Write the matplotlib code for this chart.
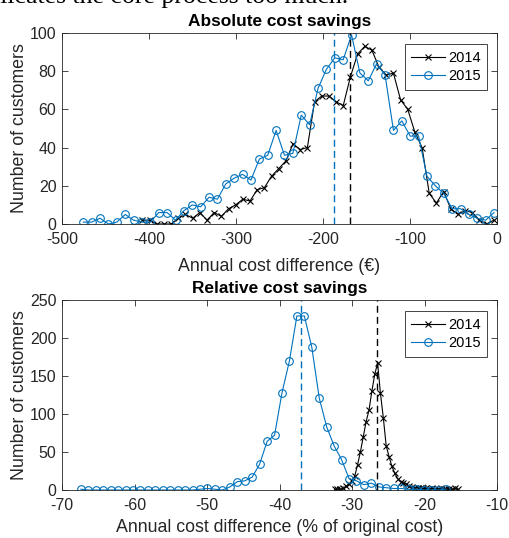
import numpy as np
import matplotlib.pyplot as plt

# Istogrammi dei risparmi annui per cliente (2014 vs 2015)
years = ['2014', '2015']

# risparmio assoluto (euro)
abs_range_2014 = (-407.5, -3.7)
abs_counts_2014 = [2, 2, 0, 0, 0, 3, 5, 3, 6, 2,
                   6, 4, 8, 10, 13, 12, 18, 19, 25, 29,
                   33, 42, 39, 40, 64, 67, 67, 64, 62, 77,
                   89, 93, 91, 82, 78, 79, 65, 60, 48, 40,
                   16, 11, 17, 8, 5, 7, 6, 2, 0, 2]
abs_range_2015 = (-475.5, -3.4)
abs_counts_2015 = [1, 1, 3, 0, 1, 5, 2, 1, 1, 6,
                   6, 2, 7, 10, 9, 14, 13, 21, 24, 26,
                   23, 34, 36, 49, 36, 37, 57, 52, 71, 81,
                   87, 86, 99, 79, 75, 84, 78, 49, 54, 46,
                   46, 25, 20, 16, 8, 8, 5, 3, 2, 6]
abs_mean = {'2014': -169, '2015': -187}

# risparmio relativo (% del costo originale)
rel_range_2014 = (-32.4, -15.4)
rel_counts_2014 = [1, 1, 1, 2, 5, 8, 12, 18, 33, 50,
                   70, 90, 105, 130, 152, 167, 127, 95, 58, 44,
                   31, 22, 15, 11, 9, 8, 5, 4, 3, 3,
                   2, 2, 2, 1, 2, 1, 1, 2, 1, 1,
                   1, 1, 2, 1]
rel_range_2015 = (-67.4, -17.05)
rel_counts_2015 = [1, 0, 0, 0, 0, 0, 0, 0, 0, 0,
                   0, 0, 0, 0, 0, 0, 1, 2, 1, 0,
                   4, 11, 12, 17, 34, 64, 72, 128, 170, 229,
                   229, 188, 121, 83, 58, 40, 15, 12, 7, 9,
                   4, 3, 2, 2, 1, 1, 0, 0, 0, 1]
rel_mean = {'2014': -26.6, '2015': -37.0}

blue = '#0072BD'
grey = '#262626'
plt.rcParams['font.family'] = ['Liberation Sans', 'DejaVu Sans']
plt.rcParams['axes.unicode_minus'] = False

fig = plt.figure(figsize=(5.09, 5.38), dpi=100)
W, H = 509.0, 538.0

# testo del documento tagliato in alto
fig.text(348 / W, 1 - 2.5 / H, 'complicates the core process too much.',
         ha='right', va='baseline', family=['Liberation Serif', 'DejaVu Serif'],
         fontsize=18.5, color='black')


def draw_panel(rect, rng14, c14, rng15, c15, means, title, xlabel, xlim, xticks, ylim, yticks, xlpad):
    ax = fig.add_axes(rect)
    x14 = np.linspace(rng14[0], rng14[1], len(c14))
    x15 = np.linspace(rng15[0], rng15[1], len(c15))
    ax.plot(x14, c14, color='black', marker='x', ms=5, mew=0.8, lw=0.8, label=years[0])
    ax.plot(x15, c15, color=blue, marker='o', ms=5.5, mfc='none', mew=0.8, lw=0.8, label=years[1])
    ax.axvline(means['2015'], color=blue, ls='--', lw=1.0, dashes=(5, 3))
    ax.axvline(means['2014'], color='black', ls='--', lw=1.0, dashes=(5, 3))
    ax.set_xlim(xlim)
    ax.set_ylim(ylim)
    ax.set_xticks(xticks)
    ax.set_yticks(yticks)
    ax.tick_params(direction='in', length=4, width=0.6, colors=grey,
                   top=True, right=True, labelsize=11.5)
    ax.tick_params(axis='x', pad=6)
    ax.tick_params(axis='y', pad=4)
    for s in ax.spines.values():
        s.set_color(grey)
        s.set_linewidth(0.6)
    ax.set_title(title, fontweight='bold', fontsize=12.4, pad=5)
    ax.set_xlabel(xlabel, color=grey, fontsize=12.8, labelpad=xlpad)
    ax.set_ylabel('Number of customers', color=grey, fontsize=12.8, labelpad=1)
    leg = ax.legend(loc='upper right', bbox_to_anchor=(0.977, 0.94), fancybox=False,
                    framealpha=1, edgecolor=grey, handlelength=2.3, fontsize=10.5,
                    borderpad=0.45, labelspacing=0.3, handletextpad=0.2, borderaxespad=0)
    leg.get_frame().set_linewidth(0.6)
    return ax


draw_panel([62 / W, 1 - 224 / H, 435 / W, 191 / H],
           abs_range_2014, abs_counts_2014, abs_range_2015, abs_counts_2015, abs_mean,
           'Absolute cost savings', 'Annual cost difference (€)',
           (-500, 0), np.arange(-500, 1, 100), (0, 100), np.arange(0, 101, 20), 8)

draw_panel([62 / W, 1 - 490 / H, 435 / W, 190 / H],
           rel_range_2014, rel_counts_2014, rel_range_2015, rel_counts_2015, rel_mean,
           'Relative cost savings', 'Annual cost difference (% of original cost)',
           (-70, -10), np.arange(-70, -9, 10), (0, 250), np.arange(0, 251, 50), 4)

fig.savefig('out.png', dpi=100)
